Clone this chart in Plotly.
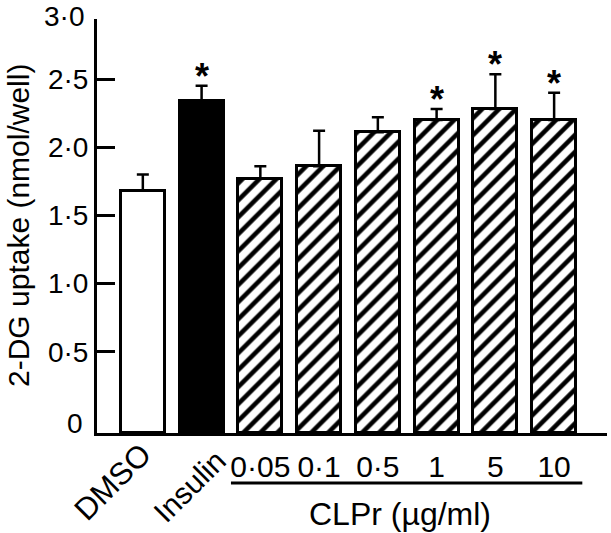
import plotly.graph_objects as go

# ---- data ----
categories = ["DMSO", "Insulin", "0·05", "0·1", "0·5", "1", "5", "10"]
uptake = [1.68, 2.34, 1.77, 1.86, 2.11, 2.20, 2.28, 2.20]
sem = [0.12, 0.11, 0.09, 0.26, 0.11, 0.08, 0.255, 0.20]
significant = [False, True, False, False, False, True, True, True]
y_tick_vals = [0.5, 1.0, 1.5, 2.0, 2.5]
y_tick_text = ["0·5", "1·0", "1·5", "2·0", "2·5"]
group_label = "CLPr (µg/ml)"
y_title = "2-DG uptake (nmol/well)"

# ---- layout geometry (pixels) ----
W, H = 611, 533
L, R, T, B = 97, 607, 19, 433
YMIN, YMAX = -0.095, 2.94
XMIN, XMAX = -0.78, 7.9
FONT = "Arial, Liberation Sans, Helvetica, sans-serif"


def px(xp):
    return (xp - L) / (R - L)


def py(yp):
    return (B - yp) / (B - T)


x = list(range(len(categories)))
styles = ["white", "black"] + ["hatch"] * 6

fig = go.Figure()
for i, (c, v, e, s) in enumerate(zip(categories, uptake, sem, styles)):
    if s == "hatch":
        marker = dict(color="white",
                      pattern=dict(shape="/", fgcolor="black", bgcolor="white",
                                   size=12, solidity=0.38, fillmode="replace"),
                      line=dict(color="black", width=3))
    else:
        marker = dict(color=s, line=dict(color="black", width=3))
    fig.add_trace(go.Bar(
        x=[x[i]], y=[v - YMIN], base=[YMIN], width=0.75,
        marker=marker,
        error_y=dict(type="data", symmetric=False, array=[e], arrayminus=[0],
                     color="black", thickness=2.5, width=6),
        showlegend=False, name=c, hoverinfo="skip",
    ))

# significance stars
for i, (v, e, sig) in enumerate(zip(uptake, sem, significant)):
    if sig:
        fig.add_annotation(x=x[i], y=v + e, xref="x", yref="y", text="<b>*</b>",
                           showarrow=False, xanchor="center", yanchor="bottom",
                           yshift=-13,
                           font=dict(family=FONT, size=36, color="black"))

annotations = [
    dict(x=px(18), y=0.5, text=y_title, textangle=-90, font_size=30),
    dict(x=px(64), y=py(17), text="3·0", font_size=28),
    dict(x=px(75), y=py(423), text="0", font_size=28),
    dict(x=px(112), y=py(482), text=categories[0], textangle=-45, font_size=31),
    dict(x=px(189), y=py(486), text=categories[1], textangle=-45, font_size=30),
    dict(x=px(400), y=py(514), text=group_label, font_size=32),
]
for a in annotations:
    fs = a.pop("font_size")
    fig.add_annotation(xref="paper", yref="paper", showarrow=False,
                       xanchor="center", yanchor="middle", borderpad=0,
                       font=dict(family=FONT, size=fs, color="black"), **a)

# underline for the CLPr group
fig.add_shape(type="line", xref="x", yref="paper", x0=1.5, x1=7.48,
              y0=py(483), y1=py(483), line=dict(color="black", width=3))

fig.update_layout(
    width=W, height=H,
    margin=dict(l=L, r=W - R, t=T, b=H - B, autoexpand=False),
    paper_bgcolor="white", plot_bgcolor="white",
    bargap=0, barmode="overlay",
    font=dict(family=FONT, color="black", size=28),
    xaxis=dict(range=[XMIN, XMAX], showgrid=False, zeroline=False,
               showline=True, linecolor="black", linewidth=3,
               tickvals=x[2:], ticktext=categories[2:], ticks="",
               tickfont=dict(family=FONT, size=30, color="black"),
               ticklabelstandoff=5),
    yaxis=dict(range=[YMIN, YMAX], showgrid=False, zeroline=False,
               showline=True, linecolor="black", linewidth=3,
               tickvals=y_tick_vals, ticktext=y_tick_text,
               ticks="inside", ticklen=18, tickwidth=3, tickcolor="black",
               tickfont=dict(family=FONT, size=28, color="black")),
)

fig.write_html("out.html",
               config={"displayModeBar": False},
               post_script="document.body.style.margin='0';"
                           "document.body.style.overflow='hidden';")
